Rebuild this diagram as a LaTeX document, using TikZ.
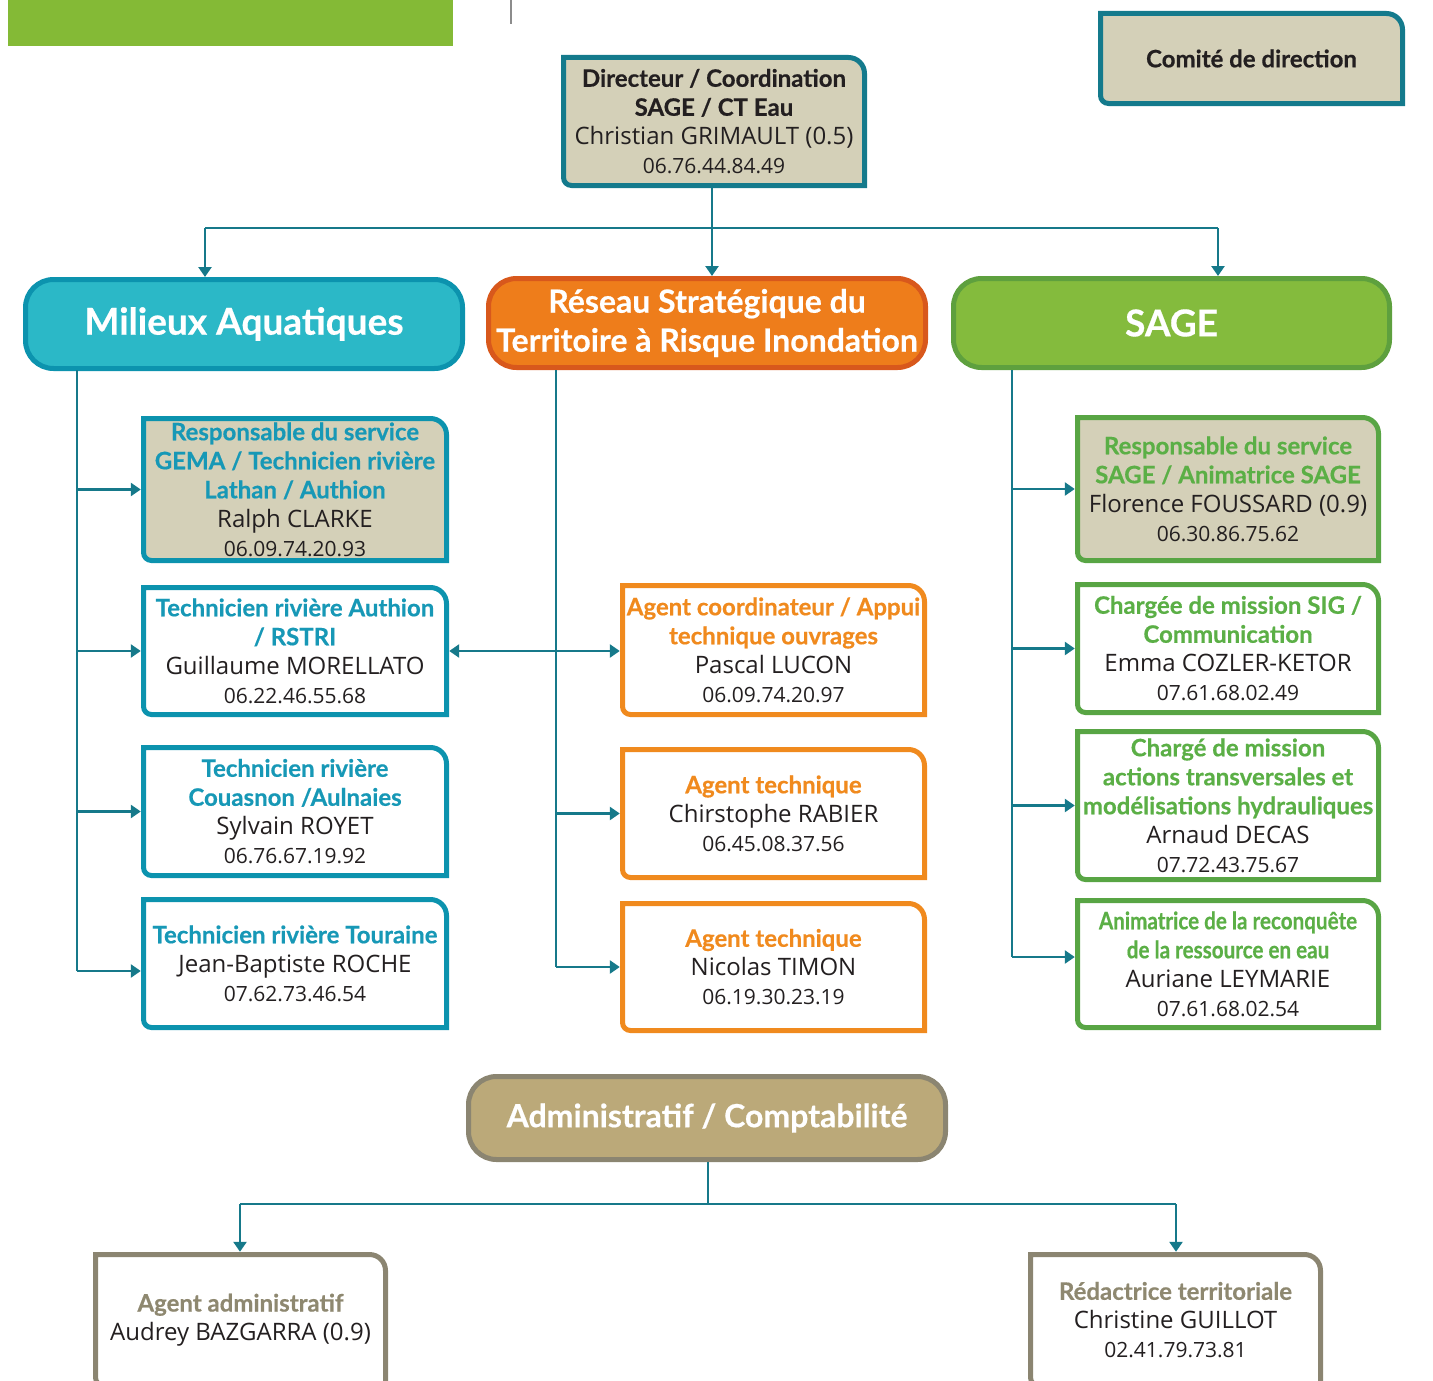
\documentclass[tikz,border=0pt]{standalone}
\usepackage{fontspec}
\setmainfont{Open Sans}
\newfontfamily\tfont{Lato}[FakeBold=0.5]
\newfontfamily\tfontn{Lato}[FakeStretch=0.86,FakeBold=0.5]
\usetikzlibrary{arrows.meta,calc}
\definecolor{cTeal}{HTML}{16798A}
\definecolor{cTealB}{HTML}{147A8C}
\definecolor{cBeige}{HTML}{D4D0B8}
\definecolor{cAqua}{HTML}{2BB8C7}
\definecolor{cAquaB}{HTML}{0C93AE}
\definecolor{cBlueT}{HTML}{1798B6}
\definecolor{cOrange}{HTML}{EE7D1B}
\definecolor{cOrangeB}{HTML}{D8581C}
\definecolor{cOrangeL}{HTML}{F08A1E}
\definecolor{cGreen}{HTML}{84BB3D}
\definecolor{cGreenB}{HTML}{5EA03E}
\definecolor{cGreenL}{HTML}{58A544}
\definecolor{cGreenT}{HTML}{5BAF46}
\definecolor{cGreenBar}{HTML}{84BA36}
\definecolor{cKhaki}{HTML}{BBA979}
\definecolor{cKhakiB}{HTML}{8B8571}
\definecolor{cKhakiT}{HTML}{8E8870}
\definecolor{cDark}{HTML}{231F20}
\newcommand{\Tf}{\tfont\bfseries\fontsize{24}{29}\selectfont}
\newcommand{\Tk}[1]{{\Tf #1}}
\newcommand{\Tb}[1]{{\color{cBlueT}\Tf #1}}
\newcommand{\To}[1]{{\color{cOrangeL}\Tf #1}}
\newcommand{\Tg}[1]{{\color{cGreenT}\Tf #1}}
\newcommand{\Tgn}[1]{{\color{cGreenT}\tfontn\bfseries\fontsize{24}{29}\selectfont #1}}
\newcommand{\Tq}[1]{{\color{cKhakiT}\Tf #1}}
\newcommand{\Ph}[1]{{\fontsize{21}{26}\selectfont #1}}
% box outline: style, x1, y1, x2, y2 (outer edges, y downwards)
\newcommand{\obox}[5]{%
  \draw[#1] ({#2+2.5},{-#3-2.5}) -- ({#4-18.5},{-#3-2.5})
    arc[start angle=90,end angle=0,radius=16] -- ({#4-2.5},{-#5+2.5})
    -- ({#2+10.5},{-#5+2.5}) arc[start angle=270,end angle=180,radius=8] -- cycle;}
% person box: node name, style, x1, y1, x2, y2, text
\newcommand{\person}[7]{%
  \obox{#2}{#3}{#4}{#5}{#6}
  \node[txt,minimum width={#5-#3},minimum height={#6-#4}] (#1)
    at ({(#3+#5)/2},{-(#4+#6)/2}) {#7};}
\begin{document}
\begin{tikzpicture}[x=1pt,y=1pt,
  conn/.style={draw=cTeal,line width=2.5pt},
  arr/.style={conn,-{Triangle[width=13pt,length=10pt]}},
  arrb/.style={conn,{Triangle[width=13pt,length=10pt]}-{Triangle[width=13pt,length=10pt]}},
  txt/.style={inner sep=0pt,align=center,font=\fontsize{24}{29}\selectfont,text=cDark},
  bT/.style={draw=cTealB,fill=cBeige,line width=5pt},
  bA/.style={draw=cAquaB,line width=5pt},
  bAf/.style={draw=cAquaB,fill=cBeige,line width=5pt},
  bO/.style={draw=cOrangeL,line width=5pt},
  bG/.style={draw=cGreenL,line width=5pt},
  bGf/.style={draw=cGreenL,fill=cBeige,line width=5pt},
  bK/.style={draw=cKhakiB,line width=5pt},
  head/.style={rounded corners=28pt,line width=5pt,text=white,align=center,
    font=\tfont\bfseries\fontsize{37}{40}\selectfont,inner sep=0pt}]
\useasboundingbox (0,0) rectangle (1433,-1381);
\clip (0,0) rectangle (1433,-1381);
\fill[cGreenBar] (8,0) rectangle (453,-46);
\draw[black!45,line width=1.5pt] (511,0) -- (511,-24);

% top boxes
\person{cd}{bT}{1098}{11}{1405}{106}{\Tk{Comité de direction}}
\person{dir}{bT}{561}{55}{867}{188}{\Tk{Directeur / Coordination}\\ \Tk{SAGE / CT Eau}\\ Christian GRIMAULT (0.5)\\ \Ph{06.76.44.84.49}}

% heads
\node[head,fill=cAqua,draw=cAquaB,minimum width=437pt,minimum height=89pt,yshift=-1pt] (ma) at (244,-323) {Milieux Aquatiques};
\node[head,fill=cOrange,draw=cOrangeB,minimum width=437pt,minimum height=89pt,
  font=\tfont\bfseries\fontsize{32}{39}\selectfont] (rs) at (707,-323) {Réseau Stratégique du\\ Territoire à Risque Inondation};
\node[head,fill=cGreen,draw=cGreenB,minimum width=436pt,minimum height=89pt] (sg) at (1171.5,-323) {SAGE};
\node[head,fill=cKhaki,draw=cKhakiB,minimum width=477pt,minimum height=83pt,
  font=\tfont\bfseries\fontsize{32}{38}\selectfont] (adm) at (707,-1118) {Administratif / Comptabilité};

% left column
\person{l1}{bAf}{141}{416}{449}{563}{\Tb{Responsable du service}\\ \Tb{GEMA / Technicien rivière}\\ \Tb{Lathan / Authion}\\ Ralph CLARKE\\ \Ph{06.09.74.20.93}}
\person{l2}{bA}{141}{585}{449}{717}{\Tb{Technicien rivière Authion}\\ \Tb{/ RSTRI}\\ Guillaume MORELLATO\\ \Ph{06.22.46.55.68}}
\person{l3}{bA}{141}{745}{449}{878}{\Tb{Technicien rivière}\\ \Tb{Couasnon /Aulnaies}\\ Sylvain ROYET\\ \Ph{06.76.67.19.92}}
\person{l4}{bA}{141}{897}{449}{1030}{\Tb{Technicien rivière Touraine}\\ Jean-Baptiste ROCHE\\ \Ph{07.62.73.46.54}}

% middle column
\person{m1}{bO}{620}{583}{927}{717}{\To{Agent coordinateur / Appui}\\ \To{technique ouvrages}\\ Pascal LUCON\\ \Ph{06.09.74.20.97}}
\person{m2}{bO}{620}{747}{927}{880}{\To{Agent technique}\\ Chirstophe RABIER\\ \Ph{06.45.08.37.56}}
\person{m3}{bO}{620}{901}{927}{1033}{\To{Agent technique}\\ Nicolas TIMON\\ \Ph{06.19.30.23.19}}

% right column
\person{r1}{bGf}{1075}{415}{1381}{563}{\Tg{Responsable du service}\\ \Tg{SAGE / Animatrice SAGE}\\ Florence FOUSSARD (0.9)\\ \Ph{06.30.86.75.62}}
\person{r2}{bG}{1075}{582}{1381}{715}{\Tg{Chargée de mission SIG /}\\ \Tg{Communication}\\ Emma COZLER-KETOR\\ \Ph{07.61.68.02.49}}
\person{r3}{bG}{1075}{729}{1381}{882}{\Tg{Chargé de mission}\\ \Tg{actions transversales et}\\ \Tg{modélisations hydrauliques}\\ Arnaud DECAS\\ \Ph{07.72.43.75.67}}
\person{r4}{bG}{1075}{898}{1381}{1030}{\Tgn{Animatrice de la reconquête}\\ \Tgn{de la ressource en eau}\\ Auriane LEYMARIE\\ \Ph{07.61.68.02.54}}

% bottom
\person{b1}{bK}{93}{1252}{388}{1388}{\Tq{Agent administratif}\\ Audrey BAZGARRA (0.9)}
\person{b2}{bK}{1028}{1252}{1323}{1388}{\Tq{Rédactrice territoriale}\\ Christine GUILLOT\\ \Ph{02.41.79.73.81}}

% connectors top
\coordinate (hub) at (712,-228);
\coordinate (hl) at (205,-228);
\coordinate (hr) at (1218,-228);
\draw[conn] (hub |- dir.south) -- (hub);
\draw[conn] (hl) -- (hr);
\draw[arr] (hl) -- (hl |- ma.north);
\draw[arr] (hub) -- (hub |- rs.north);
\draw[arr] (hr) -- (hr |- sg.north);

% left
\coordinate (lt) at (77,-370);
\coordinate (lb) at (77,-971);
\draw[conn] (lt) -- (lb);
\draw[arr] (lt |- l1.west) -- (l1.west);
\draw[arr] (lt |- l2.west) -- (l2.west);
\draw[arr] (lt |- l3.west) -- (l3.west);
\draw[arr] (lb) -- (lb -| l4.west);

% middle
\coordinate (mt) at (556,-370);
\coordinate (mb) at (556,-967);
\draw[conn] (mt) -- (mb);
\draw[arrb] (l2.east) -- (l2.east -| m1.west);
\draw[arr] (mt |- m2.west) -- (m2.west);
\draw[arr] (mb) -- (mb -| m3.west);

% right
\coordinate (rt) at (1012,-370);
\coordinate (rb) at (1012,-957);
\draw[conn] (rt) -- (rb);
\draw[arr] (rt |- r1.west) -- (r1.west);
\draw[arr] (rt |- r2.west) -- (r2.west);
\draw[arr] (rt |- r3.west) -- (r3.west);
\draw[arr] (rb) -- (rb -| r4.west);

% bottom connectors
\coordinate (bh) at (708,-1204);
\coordinate (bl) at (240,-1204);
\coordinate (br) at (1176,-1204);
\draw[conn] (bh |- adm.south) -- (bh);
\draw[conn] (bl) -- (br);
\draw[arr] (bl) -- (bl |- b1.north);
\draw[arr] (br) -- (br |- b2.north);
\end{tikzpicture}
\end{document}
